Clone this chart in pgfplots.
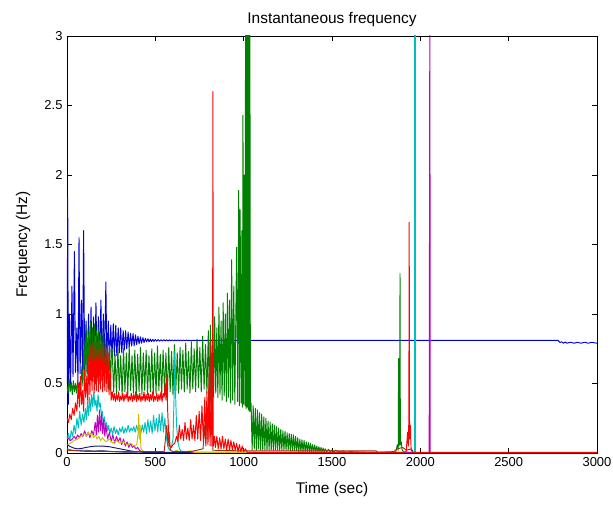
\documentclass[border=0pt]{standalone}
\usepackage{pgfplots}
\pgfplotsset{compat=1.18}
\usepackage{fontspec}
\setmainfont{Liberation Sans}
\definecolor{mb}{rgb}{0,0,0.85}
\definecolor{mg}{rgb}{0,0.5,0}
\definecolor{mr}{rgb}{1,0,0}
\definecolor{mc}{rgb}{0,0.75,0.75}
\definecolor{mm}{rgb}{0.75,0,0.75}
\definecolor{my}{rgb}{0.8,0.75,0}
\definecolor{mk}{rgb}{0.1,0.1,0.45}
\definecolor{mbr}{rgb}{0.6,0.2,0.05}
\begin{document}
\begin{tikzpicture}
\path[use as bounding box] (-67bp,-55bp) rectangle (546bp,453bp);
\begin{axis}[
  scale only axis, width=530bp, height=417bp,
  xmin=0, xmax=3000, ymin=0, ymax=3,
  xtick={0,500,...,3000}, ytick={0,0.5,...,3},
  tick align=inside, major tick length=5bp,
  axis line style={line width=0.6pt}, tick style={black, line width=0.5pt},
  /pgf/number format/1000 sep={},
  /pgf/number format/assume math mode=true,
  tick label style={font=\fontsize{13}{13}\selectfont},
  xticklabel style={yshift=-1bp},
  yticklabel style={xshift=-1bp},
  title={Instantaneous frequency},
  title style={font=\fontsize{15.5}{16}\selectfont, at={(axis description cs:0.5,1)}, anchor=base, yshift=7bp},
  xlabel={Time (sec)},
  xlabel style={font=\fontsize{15.5}{16}\selectfont, at={(axis description cs:0.5,-0.0887)}, anchor=center},
  ylabel={Frequency (Hz)},
  ylabel style={font=\fontsize{15.5}{16}\selectfont, at={(axis description cs:-0.083,0.5)}, anchor=center},
  every axis plot/.append style={line width=0.95pt, line join=round},
]
% blue
\addplot[mb] coordinates {(0,0.5)(4,1.84)(8,0.35)(14,1.0)(20,0.45)(28,1.2)(34,0.55)(42,1.45)(48,0.58)(56,0.9)(62,0.5)(68,1.55)(74,0.57)(82,1.1)(88,0.52)(94,1.6)(100,0.6)(108,0.95)(114,0.58)(122,1.0)(128,0.6)(136,1.05)(142,0.62)(150,0.98)(156,0.6)(164,1.08)(170,0.62)(178,0.98)(184,0.63)(192,1.1)(198,0.65)(206,1.0)(212,0.62)(220,1.23)(226,0.64)(234,0.95)(240,0.66)(248,0.92)(254,0.68)(262,0.93)(268,0.7)(276,0.92)(282,0.7)(290,0.9)(296,0.72)(304,0.9)(310,0.72)(318,0.88)(324,0.74)(332,0.88)(338,0.75)(346,0.87)(352,0.76)(360,0.86)(366,0.77)(374,0.86)(380,0.77)(388,0.85)(394,0.78)(402,0.84)(408,0.785)(416,0.835)(422,0.79)(430,0.83)(436,0.795)(444,0.825)(450,0.8)(458,0.822)(464,0.8)(472,0.82)(478,0.802)(486,0.818)(492,0.803)(500,0.817)(508,0.804)(516,0.816)(524,0.805)(532,0.815)(540,0.805)(548,0.815)(556,0.806)(564,0.814)(572,0.806)(580,0.814)(588,0.807)(596,0.813)(604,0.807)(612,0.813)(620,0.807)(628,0.813)(636,0.808)(644,0.812)(652,0.808)(660,0.812)(668,0.808)(676,0.812)(684,0.809)(692,0.811)(700,0.809)(720,0.811)(740,0.809)(760,0.811)(780,0.81)(800,0.81)(2780,0.81)(2790,0.795)(2800,0.8)(2810,0.79)(2820,0.798)(2830,0.79)(2850,0.797)(2870,0.79)(2890,0.796)(2910,0.79)(2930,0.797)(2950,0.79)(2970,0.796)(3000,0.79)};
% green
\addplot[mg] coordinates {(0,0.48)(6,0.43)(12,0.53)(18,0.44)(24,0.51)(30,0.42)(36,0.52)(42,0.44)(48,0.5)(54,0.43)(60,0.52)(66,0.44)(72,0.51)(78,0.45)(84,0.62)(90,0.48)(96,0.82)(102,0.55)(108,0.92)(114,0.52)(120,0.88)(126,0.55)(132,0.95)(138,0.52)(144,0.9)(150,0.55)(156,0.93)(162,0.5)(168,0.88)(174,0.54)(180,0.9)(186,0.5)(192,0.85)(198,0.52)(204,0.87)(210,0.48)(216,0.82)(222,0.5)(228,0.8)(234,0.46)(240,0.78)(246,0.45)(252,0.76)
(256,0.74)(264,0.44)(272,0.71)(280,0.42)(288,0.76)(296,0.45)(304,0.70)(312,0.41)(320,0.75)(328,0.44)(336,0.72)(344,0.42)(352,0.77)(360,0.45)(368,0.70)(376,0.43)(384,0.74)(392,0.41)(400,0.71)(408,0.44)(416,0.76)(424,0.42)(432,0.72)(440,0.45)(448,0.74)(456,0.42)(464,0.70)(472,0.44)(480,0.75)(488,0.41)(496,0.72)(504,0.43)(512,0.77)(520,0.45)(528,0.71)(536,0.42)(544,0.74)(552,0.44)(560,0.72)(568,0.41)(576,0.76)(584,0.44)(592,0.73)(600,0.42)(608,0.78)(616,0.45)(624,0.72)(632,0.43)(640,0.76)(648,0.46)(656,0.74)(664,0.44)(672,0.79)(680,0.46)(688,0.73)(696,0.43)(704,0.80)(712,0.46)(720,0.75)(728,0.44)(736,0.82)(744,0.47)(752,0.76)(760,0.44)(768,0.84)(776,0.46)(784,0.78)(792,0.43)(800,0.88)
(806,0.42)(812,0.92)(818,0.44)(824,0.86)(830,0.40)(836,0.98)(842,0.43)(848,0.90)(854,0.40)(860,1.05)(866,0.42)(872,0.95)(878,0.38)(884,1.08)(890,0.41)(896,1.0)(902,0.37)(908,1.15)(914,0.40)(920,1.1)(926,0.36)(932,1.39)(938,0.38)(944,1.2)(950,0.35)(960,1.48)(966,0.37)(972,1.89)(976,0.34)(980,1.75)(986,0.36)(990,1.6)(993,0.33)(996,2.43)(1000,0.35)(1004,2.0)(1008,0.34)(1011,3.5)(1014,0.32)(1017,3.5)(1020,0.33)(1023,3.5)(1026,0.31)(1029,3.5)(1032,0.3)(1035,3.5)(1038,0.3)
(1042,0.36)(1048,0.02)(1054,0.34)(1060,0.03)(1066,0.32)(1072,0.02)(1078,0.31)(1084,0.03)(1090,0.29)(1096,0.02)(1102,0.28)(1108,0.02)(1114,0.26)(1120,0.02)(1126,0.25)(1132,0.02)(1138,0.23)(1144,0.02)(1150,0.22)(1156,0.02)(1162,0.21)(1168,0.02)(1174,0.2)(1180,0.02)(1186,0.19)(1192,0.02)(1198,0.18)(1204,0.02)(1210,0.17)(1216,0.02)(1222,0.16)(1228,0.02)(1234,0.155)(1240,0.02)(1246,0.145)(1252,0.02)(1258,0.14)(1264,0.015)(1270,0.135)(1276,0.015)(1282,0.13)(1288,0.015)(1294,0.12)(1300,0.015)(1306,0.11)(1312,0.01)(1318,0.1)(1324,0.01)(1330,0.095)(1336,0.01)(1342,0.09)(1348,0.01)(1354,0.08)(1360,0.01)(1366,0.075)(1372,0.01)(1378,0.07)(1384,0.01)(1390,0.06)(1396,0.01)(1402,0.058)(1408,0.01)(1414,0.05)(1420,0.01)(1426,0.045)(1432,0.01)(1438,0.04)(1444,0.01)(1450,0.035)(1456,0.008)(1462,0.03)(1470,0.008)(1480,0.027)(1490,0.008)(1500,0.022)(1510,0.008)(1520,0.02)(1540,0.008)(1560,0.014)(1580,0.006)(1600,0.01)(1700,0.005)(1860,0.005)(1870,0.06)(1875,0.02)(1877,0.68)(1879,0.05)(1883,0.08)(1885,1.29)(1887,0.06)(1892,0.08)(1897,0.02)(1910,0.005)};
% cyan
\addplot[mc] coordinates {(0,0.1)(8,0.14)(16,0.09)(24,0.16)(32,0.12)(40,0.2)(48,0.14)(56,0.25)(64,0.18)(72,0.3)(80,0.2)(88,0.28)(96,0.22)(104,0.32)(110,0.24)(116,0.36)(122,0.27)(128,0.4)(134,0.3)(140,0.42)(146,0.33)(152,0.44)(158,0.34)(164,0.38)(170,0.3)(176,0.42)(182,0.33)(188,0.36)(194,0.28)(200,0.3)(206,0.2)(212,0.26)(218,0.18)(224,0.22)(230,0.16)(236,0.2)(242,0.14)(250,0.18)(258,0.13)(266,0.19)(274,0.14)(282,0.17)(290,0.13)(298,0.18)(306,0.15)(314,0.19)(322,0.14)(330,0.18)(338,0.15)(346,0.2)(354,0.15)(362,0.18)(370,0.16)(378,0.19)(386,0.15)(394,0.2)(402,0.16)(410,0.19)(418,0.14)(426,0.2)(434,0.15)(442,0.22)(450,0.14)(458,0.24)(466,0.15)(474,0.23)(482,0.14)(490,0.27)(498,0.16)(506,0.25)(514,0.15)(522,0.28)(530,0.16)(538,0.29)(546,0.15)(554,0.25)(562,0.12)(570,0.05)(580,0.02)(590,0.04)(600,0.1)(606,0.4)(610,0.73)(614,0.45)(620,0.2)(628,0.08)(636,0.03)(650,0.01)(700,0.005)(1960,0.005)};
\addplot[mc, line width=2.2pt] coordinates {(1970,0)(1970,3.5)};
% magenta
\addplot[mm] coordinates {(0,0.12)(10,0.1)(20,0.09)(30,0.1)(40,0.12)(50,0.1)(60,0.13)(70,0.11)(80,0.14)(90,0.12)(100,0.16)(110,0.12)(120,0.15)(130,0.11)(140,0.16)(150,0.13)(160,0.22)(166,0.13)(172,0.27)(178,0.15)(184,0.31)(190,0.16)(196,0.28)(202,0.14)(208,0.24)(214,0.12)(220,0.2)(230,0.1)(240,0.15)(250,0.08)(260,0.13)(270,0.07)(280,0.12)(290,0.08)(300,0.11)(310,0.06)(320,0.1)(330,0.05)(340,0.08)(350,0.04)(360,0.07)(370,0.04)(380,0.05)(390,0.03)(400,0.04)(410,0.02)(420,0.01)(440,0.005)(2050,0.005)(2054,3.5)(2056,0.005)(3000,0.005)};
% yellow
\addplot[my] coordinates {(0,0.06)(20,0.07)(40,0.09)(60,0.1)(80,0.12)(100,0.14)(110,0.12)(120,0.15)(130,0.13)(140,0.14)(150,0.11)(160,0.13)(170,0.1)(180,0.12)(190,0.09)(200,0.11)(220,0.08)(240,0.1)(260,0.07)(280,0.09)(300,0.07)(320,0.08)(340,0.06)(360,0.07)(380,0.05)(395,0.06)(402,0.14)(406,0.28)(410,0.1)(414,0.2)(418,0.04)(425,0.02)(440,0.005)(600,0.005)(620,0.02)(640,0.005)(700,0.015)(720,0.005)(1900,0.005)};
% dark
\addplot[mk] coordinates {(0,0.06)(20,0.045)(40,0.035)(60,0.03)(80,0.032)(100,0.038)(130,0.045)(160,0.05)(200,0.05)(240,0.045)(280,0.035)(320,0.025)(360,0.015)(400,0.008)(450,0.003)(700,0.003)};
\addplot[mk!70!white] coordinates {(0,0.03)(30,0.02)(60,0.018)(100,0.02)(150,0.015)(200,0.018)(260,0.01)(320,0.005)(400,0.002)};
% brown
\addplot[mbr] coordinates {(0,0.02)(100,0.012)(300,0.01)(550,0.01)(565,0.2)(572,0.05)(578,0.15)(585,0.02)(600,0.01)(700,0.01)(770,0.03)(780,0.2)(786,0.05)(792,0.35)(798,0.1)(804,0.6)(808,0.15)(812,0.8)(818,0.2)(822,0.5)(826,0.02)(1000,0.015)(1750,0.015)(1760,0.005)(1850,0.01)(1870,0.03)(1900,0.04)(1920,0.02)(1950,0.03)(1960,0.005)};
% red
\addplot[mr] coordinates {(0,0.25)(8,0.22)(16,0.28)(24,0.24)(32,0.32)(40,0.27)(48,0.36)(56,0.3)(64,0.5)(70,0.33)(76,0.55)(82,0.35)(88,0.45)(94,0.3)(100,0.6)(106,0.4)(112,0.55)(118,0.36)(124,0.7)(130,0.42)(136,0.78)(142,0.45)(148,0.8)(154,0.43)(160,0.79)(166,0.45)(172,0.8)(178,0.44)(184,0.81)(190,0.46)(196,0.8)(202,0.44)(208,0.78)(214,0.45)(220,0.76)(226,0.44)(232,0.72)(238,0.42)(244,0.6)(250,0.38)(256,0.44)
(262,0.38)(268,0.43)(274,0.37)(280,0.42)(286,0.38)(292,0.44)(298,0.37)(304,0.41)(310,0.38)(316,0.43)(322,0.37)(328,0.42)(334,0.39)(340,0.44)(346,0.37)(352,0.41)(358,0.38)(364,0.43)(370,0.37)(376,0.42)(382,0.38)(388,0.44)(394,0.37)(400,0.42)(406,0.38)(412,0.43)(418,0.37)(424,0.41)(430,0.38)(436,0.44)(442,0.37)(448,0.42)(454,0.38)(460,0.43)(466,0.37)(472,0.42)(478,0.38)(484,0.44)(490,0.37)(496,0.41)(502,0.38)(508,0.43)(514,0.37)(520,0.42)(526,0.38)(532,0.44)(538,0.37)(544,0.43)(550,0.4)(556,0.5)(560,0.38)(565,0.55)(570,0.3)(575,0.15)(580,0.05)(590,0.04)(600,0.06)
(610,0.07)(620,0.12)(628,0.08)(636,0.2)(644,0.1)(652,0.17)(660,0.09)(668,0.22)(676,0.1)(684,0.18)(692,0.09)(700,0.24)(708,0.1)(716,0.2)(724,0.09)(732,0.27)(740,0.1)(748,0.3)(756,0.09)(764,0.34)(772,0.08)(780,0.4)(786,0.07)(792,0.44)(798,0.06)(804,0.5)(810,0.05)(816,0.45)(820,0.05)(824,0.4)(826,2.6)(828,0.05)(834,0.12)(840,0.04)(848,0.12)(856,0.03)(864,0.11)(872,0.03)(880,0.12)(888,0.03)(896,0.1)(904,0.02)(912,0.1)(920,0.02)(928,0.09)(936,0.02)(944,0.08)(952,0.02)(960,0.07)(968,0.01)(976,0.06)(984,0.01)(992,0.05)(1000,0.01)(1010,0.03)(1020,0.005)(1100,0.003)(1900,0.003)(1920,0.01)(1928,0.15)(1932,0.05)(1935,0.25)(1937,1.66)(1939,0.1)(1943,0.2)(1948,0.02)(1960,0.003)(3000,0.003)};
\end{axis}
\end{tikzpicture}
\end{document}
